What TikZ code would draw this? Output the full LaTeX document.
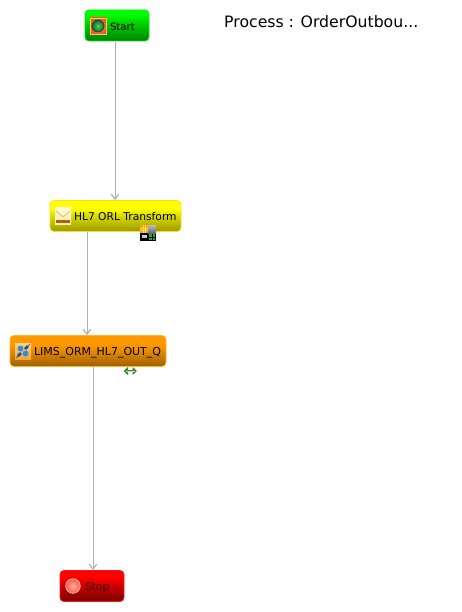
\documentclass[tikz,border=0pt]{standalone}
\usepackage{fontspec}
\setmainfont{DejaVu Sans}
\usetikzlibrary{arrows.meta}
\definecolor{conn}{HTML}{B0B0B0}
\definecolor{gborder}{RGB}{0,235,20}
\definecolor{yborder}{RGB}{250,225,20}
\definecolor{oborder}{RGB}{255,180,40}
\definecolor{rborder}{RGB}{255,20,20}
\definecolor{stoptext}{RGB}{60,0,0}
\definecolor{ringin}{RGB}{255,200,90}
\definecolor{ringout}{RGB}{240,90,20}
\definecolor{ringedge}{RGB}{255,190,130}
\definecolor{dotline}{RGB}{30,70,40}
\definecolor{dotin}{RGB}{70,215,90}
\definecolor{dotout}{RGB}{20,100,50}
\definecolor{mailtop}{RGB}{255,250,215}
\definecolor{mailbot}{RGB}{255,235,170}
\definecolor{mailbar}{RGB}{170,100,20}
\definecolor{mailfold}{RGB}{225,180,90}
\definecolor{badgeo}{RGB}{245,165,20}
\definecolor{badgel}{RGB}{255,225,110}
\definecolor{badgeg}{RGB}{30,170,60}
\definecolor{qtop}{RGB}{255,215,130}
\definecolor{qbot}{RGB}{240,165,60}
\definecolor{qblue}{RGB}{20,80,160}
\definecolor{qlight}{RGB}{50,140,215}
\definecolor{qgrey}{RGB}{70,70,70}
\definecolor{arrowd}{RGB}{60,135,60}
\definecolor{arrowl}{RGB}{180,230,160}
\definecolor{stopline}{RGB}{255,185,175}
\definecolor{stopin}{RGB}{255,175,150}
\definecolor{stopout}{RGB}{250,90,75}
\definecolor{orangeb}{RGB}{255,153,0}
\pgfdeclareverticalshading{greenbox}{100bp}{color(0bp)=(green!50!black);color(25bp)=(green!50!black);color(50bp)=(green!78!black);color(68bp)=(green);color(100bp)=(green)}
\pgfdeclareverticalshading{yellowbox}{100bp}{color(0bp)=(yellow!60!black);color(25bp)=(yellow!60!black);color(50bp)=(yellow!85!black);color(62bp)=(yellow);color(100bp)=(yellow)}
\pgfdeclareverticalshading{orangebox}{100bp}{color(0bp)=(orangeb!62!black);color(25bp)=(orangeb!62!black);color(50bp)=(orangeb!90!black);color(62bp)=(orangeb);color(100bp)=(orangeb)}
\pgfdeclareverticalshading{redbox}{100bp}{color(0bp)=(red!45!black);color(25bp)=(red!45!black);color(50bp)=(red!80!black);color(65bp)=(red);color(100bp)=(red)}
\tikzset{
  x=1pt,y=-1pt,
  flowbox/.style={rounded corners=4pt,inner sep=0pt,minimum height=31pt,font=\fontsize{10.7}{12}\selectfont,text=black,line width=0.8pt},
  startbox/.style={flowbox,shading=greenbox,draw=gborder},
  taskbox/.style={flowbox,shading=yellowbox,draw=yborder},
  queuebox/.style={flowbox,shading=orangebox,draw=oborder},
  stopbox/.style={flowbox,shading=redbox,draw=rborder,text=stoptext},
  edgeline/.style={draw=conn,line width=1pt,-{Straight Barb[length=5pt,width=7.5pt,line width=1.2pt]}},
  icon/.style={minimum size=16pt,inner sep=0pt},
  title/.style={font=\fontsize{15.7}{18}\selectfont,text=black,inner sep=0pt,anchor=west},
}
\newcommand{\boxtext}[3]{\makebox[#1pt][l]{\hspace{#2pt}\raisebox{-4.8pt}[0pt][0pt]{#3}}}
\begin{document}
\begin{tikzpicture}
\useasboundingbox (0,0) rectangle (461,612);
\fill[white] (0,0) rectangle (461,612);
% boxes
\node[startbox,minimum width=64pt] (start) at (117,25.5) {\boxtext{64}{25}{\fontsize{10.2}{12}\selectfont Start}};
\node[taskbox,minimum width=131pt] (hl7) at (115.5,216) {\boxtext{131}{24}{HL7 ORL Transform}};
\node[queuebox,minimum width=156pt] (lims) at (88,351) {\boxtext{156}{24}{\fontsize{11}{12}\selectfont LIMS\_ORM\_HL7\_OUT\_Q}};
\node[stopbox,minimum width=64pt] (stop) at (92,586) {\boxtext{64}{25}{Stop}};
% connectors
\draw[edgeline] ([xshift=-2pt,yshift=-0.5pt]start.south) -- ([xshift=-0.5pt]hl7.north);
\draw[edgeline] ([xshift=-28.5pt,yshift=-0.5pt]hl7.south) -- ([xshift=-1pt]lims.north);
\draw[edgeline] ([xshift=5pt,yshift=-0.5pt]lims.south) -- ([xshift=1pt]stop.north);
% start icon
\node[icon,inner color=ringin,outer color=ringout,draw=ringedge,line width=0.6pt] (starticon) at (98,26) {};
\node[circle,minimum size=12pt,inner sep=0pt,draw=dotline,line width=0.8pt,inner color=dotin,outer color=dotout] (startdot) at (starticon) {};
% mail icon
\node[icon,top color=mailtop,bottom color=mailbot] (mail) at (63,216) {};
\fill[mailbar] (56,220) rectangle (70,223);
\draw[mailfold,line width=0.7pt] (56,211) -- (63,217) -- (70,211);
% transform badge
\node[icon,fill=black] (badge) at (148,233) {};
\fill[badgeo] (140,225) rectangle (148,233);
\draw[badgel,line width=0.4pt] (142.7,225) -- (142.7,233) (145.3,225) -- (145.3,233) (140,227.7) -- (148,227.7) (140,230.3) -- (148,230.3);
\shade[top color=white!75!black,bottom color=black!60] (148,225) rectangle (156,233);
\fill[badgeg] (149,234) rectangle (155,240);
\draw[black,line width=0.5pt] (152,234) -- (152,240) (149,237) -- (155,237);
\fill[white!80!black] (142,235) rectangle (147,238);
% queue icon
\node[icon,top color=qtop,bottom color=qbot] (queue) at (23,351) {};
\draw[qblue,line width=2.8pt] (18,356) -- (21,353) (25,349) -- (28,346);
\fill[qlight] (20.5,348.5) circle (3pt) (25.5,353.5) circle (3pt);
\draw[qgrey,line width=0.5pt] (16,358) -- (18,356) (28,346) -- (30,344);
% two-way arrow
\coordinate (arrowa) at (123.5,371);
\coordinate (arrowb) at (137,371);
\draw[arrowd,line width=2.6pt,{Triangle[length=4.5pt,width=8pt]}-{Triangle[length=4.5pt,width=8pt]}] (arrowa) -- (arrowb);
\draw[arrowl,line width=1pt] (126,371) -- (134.5,371);
% stop icon
\node[circle,minimum size=14.5pt,inner sep=0pt,draw=stopline,line width=0.8pt,inner color=stopin,outer color=stopout] (stopicon) at (73,586) {};
% title
\node[title] (heading) at (224,22) {Process : OrderOutbou...};
\end{tikzpicture}
\end{document}
